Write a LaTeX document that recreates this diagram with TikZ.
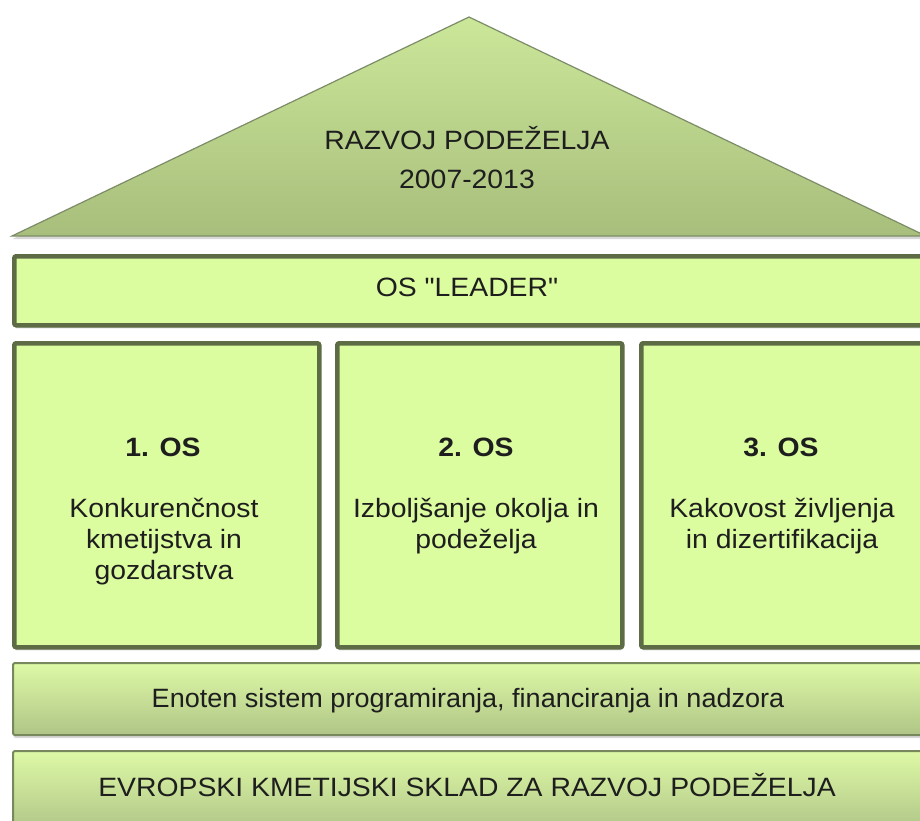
\documentclass[tikz,border=0pt]{standalone}
\usepackage{fontspec}
\setmainfont[FakeStretch=1.07]{Liberation Sans}
\newfontfamily\plainf[FakeStretch=1.07]{Liberation Sans}
\newfontfamily\tightf[FakeStretch=1.02]{Liberation Sans}
\usetikzlibrary{shadows}
\definecolor{boxfill}{HTML}{DCFCA0}
\definecolor{boxline}{HTML}{5D6C45}
\definecolor{rooftop}{HTML}{CBE799}
\definecolor{roofbot}{HTML}{A8BE7C}
\definecolor{roofline}{HTML}{7D8C68}
\definecolor{bartop}{HTML}{DEF9A6}
\definecolor{barbot}{HTML}{AFC587}
\definecolor{barline}{HTML}{76885C}
\definecolor{txt}{HTML}{1E1E1E}
\begin{document}
\begin{tikzpicture}[x=1pt,y=-1pt,
  softshadow/.style={drop shadow={opacity=0.3,shadow xshift=0.5pt,shadow yshift=-3pt}},
  pillar/.style={draw=boxline,line width=4.5pt,fill=boxfill,rounded corners=2pt,
    inner sep=0pt,anchor=north west,softshadow},
  bar/.style={draw=barline,line width=2pt,top color=bartop,bottom color=barbot,
    rounded corners=2pt,inner sep=0pt,anchor=north west,softshadow},
  lbl/.style={font=\plainf\fontsize{26.5}{31}\selectfont,text=txt,anchor=base,inner sep=0pt},
  lblb/.style={lbl,font=\plainf\fontsize{26.5}{31}\selectfont\bfseries}
]
\useasboundingbox (0,0) rectangle (920,820);
\clip (0,0) rectangle (920,820);
\fill[white] (0,0) rectangle (920,820);

% roof
\coordinate (rl) at (12,236);
\coordinate (ra) at (469,17);
\coordinate (rr) at (926,236);
\path[draw=roofline,line width=1.2pt,top color=rooftop,bottom color=roofbot,softshadow]
  (rl) -- (ra) -- (rr) -- cycle;
\node[lbl] (roof1) at (467,149) {RAZVOJ PODEŽELJA};
\node[lbl] (roof2) at (467,188) {2007-2013};

% leader
\node[pillar,minimum width=918pt,minimum height=69pt] (leader) at (12,254) {};
\node[lbl] (leadert) at (467,296) {OS "LEADER"};

% columns
\node[pillar,minimum width=305pt,minimum height=304pt] (c1) at (12,341) {};
\node[pillar,minimum width=285pt,minimum height=304pt] (c2) at (335,341) {};
\node[pillar,minimum width=291pt,minimum height=304pt] (c3) at (639,341) {};

\node[lblb] (c1h) at (163,456) {1. OS};
\node[lbl] (c1a) at (164,517) {Konkurenčnost};
\node[lbl] (c1b) at (164,548) {kmetijstva in};
\node[lbl] (c1c) at (164,579) {gozdarstva};

\node[lblb] (c2h) at (476,456) {2. OS};
\node[lbl] (c2a) at (476,517) {Izboljšanje okolja in};
\node[lbl] (c2b) at (476,548) {podeželja};

\node[lblb] (c3h) at (781,456) {3. OS};
\node[lbl] (c3a) at (782,517) {Kakovost življenja};
\node[lbl] (c3b) at (782,548) {in dizertifikacija};

% bottom bars
\node[bar,minimum width=918pt,minimum height=72pt] (b1) at (12,662) {};
\node[lbl,font=\tightf\fontsize{26.5}{31}\selectfont] (b1t) at (468,707) {Enoten sistem programiranja, financiranja in nadzora};
\node[bar,minimum width=918pt,minimum height=80pt] (b2) at (12,750) {};
\node[lbl] (b2t) at (467,796) {EVROPSKI KMETIJSKI SKLAD ZA RAZVOJ PODEŽELJA};
\end{tikzpicture}
\end{document}
